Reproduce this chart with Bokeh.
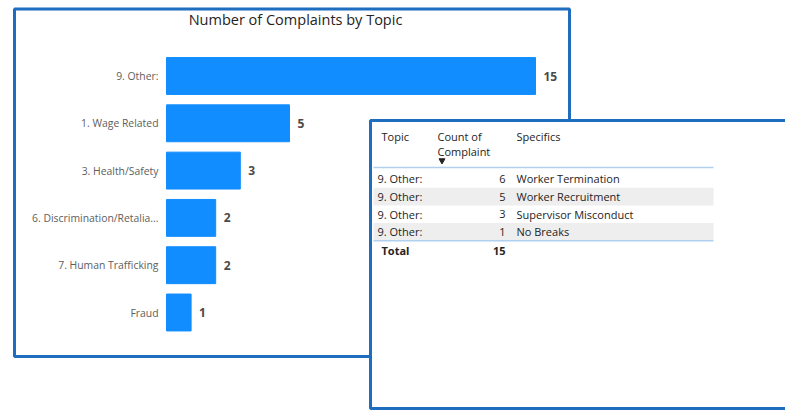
from bokeh.plotting import figure
from bokeh.models import Range1d
from bokeh.core.properties import value
from bokeh.embed import file_html
from bokeh.resources import INLINE

# ---------------- data ----------------
title_text = "Number of Complaints by Topic"
categories = ["9. Other:", "1. Wage Related", "3. Health/Safety",
              "6. Discrimination/Retalia...", "7. Human Trafficking", "Fraud"]
counts = [15, 5, 3, 2, 2, 1]

table_headers = ["Topic", "Count of", "Complaint", "Specifics"]
spec_topics = ["9. Other:", "9. Other:", "9. Other:", "9. Other:"]
spec_counts = [6, 5, 3, 1]
spec_names = ["Worker Termination", "Worker Recruitment", "Supervisor Misconduct", "No Breaks"]
total_label = "Total"

# ---------------- layout / style ----------------
W, H = 785, 419
OFF = 0                     # primary ranges are in screenshot pixels
BAR_X0 = 166.0              # x where value 0 sits
PX_PER_UNIT = 24.6
ROW0_Y = 75.5               # y of first category centre
ROW_STEP = 47.3

FONT = value("Open Sans")
BLUE_BORDER = "#1F6DBE"
BAR_COLOR = "#118DFF"
TEXT_DARK = "#252423"
TEXT_GREY = "#605E5C"

p = figure(width=W, height=H, output_backend="svg", toolbar_location=None,
           x_range=Range1d(OFF, OFF + W), y_range=Range1d(OFF + H, OFF),
           x_axis_location=None, y_axis_location=None, title_location=None,
           min_border=0, outline_line_color=None,
           background_fill_color="white", border_fill_color="white")
p.grid.visible = False

p.extra_x_ranges = {"val": Range1d((OFF - BAR_X0) / PX_PER_UNIT,
                                   (OFF + W - BAR_X0) / PX_PER_UNIT)}
p.extra_y_ranges = {"idx": Range1d((OFF + H - ROW0_Y) / ROW_STEP,
                                   (OFF - ROW0_Y) / ROW_STEP)}

# chart card
p.quad(left=[14], right=[569], top=[8.5], bottom=[356], fill_color="white",
       line_color=BLUE_BORDER, line_width=3)

idx = list(range(len(categories)))
p.hbar(y=idx, left=0, right=counts, height=0.78, color=BAR_COLOR,
       x_range_name="val", y_range_name="idx")
p.text(x=[0] * len(categories), y=idx, text=categories, x_offset=-8,
       text_align="right", text_baseline="middle", text_font=FONT,
       text_font_size="10.4px", text_color=TEXT_GREY,
       x_range_name="val", y_range_name="idx")
p.text(x=counts, y=idx, text=[str(c) for c in counts], x_offset=8,
       text_align="left", text_baseline="middle", text_font=FONT,
       text_font_size="12px", text_font_style="bold", text_color="#4A4A4A",
       x_range_name="val", y_range_name="idx")

p.text(x=[295], y=[19], text=[title_text], text_align="center",
       text_baseline="middle", text_font=FONT, text_font_size="14.5px",
       text_color=TEXT_DARK)

# table card
p.quad(left=[370], right=[810], top=[120], bottom=[408], fill_color="white",
       line_color=BLUE_BORDER, line_width=3)

TBL_L, TBL_R = 373, 713
ROW_TOP = 169.5
ROW_H = 17.7
n = len(spec_names)
row_tops = [ROW_TOP + i * ROW_H for i in range(n)]
row_mid = [t + ROW_H / 2 for t in row_tops]
shade = [i for i in range(n) if i % 2 == 1]
p.quad(left=[TBL_L] * len(shade), right=[TBL_R] * len(shade),
       top=[row_tops[i] for i in shade], bottom=[row_tops[i] + ROW_H for i in shade],
       fill_color="#EEEEEE", line_color=None)

p.segment(x0=[TBL_L, TBL_L], x1=[TBL_R, TBL_R],
          y0=[167, ROW_TOP + n * ROW_H], y1=[167, ROW_TOP + n * ROW_H],
          line_color="#AFD0EF", line_width=1.5)

hdr_style = dict(text_font=FONT, text_font_size="11px", text_color=TEXT_DARK,
                 text_baseline="middle", text_align="left")
p.text(x=[381, 437, 437, 516], y=[136, 136, 151, 136], text=table_headers, **hdr_style)
p.scatter(x=[441.5], y=[160], marker="inverted_triangle", size=6,
          color=TEXT_DARK)

cell = dict(text_font=FONT, text_font_size="11px", text_color=TEXT_DARK,
            text_baseline="middle")
p.text(x=[377] * n, y=row_mid, text=spec_topics, text_align="left", **cell)
p.text(x=[505] * n, y=row_mid, text=[str(c) for c in spec_counts],
       text_align="right", **cell)
p.text(x=[516] * n, y=row_mid, text=spec_names, text_align="left", **cell)

total_y = ROW_TOP + n * ROW_H + 10
p.text(x=[381], y=[total_y], text=[total_label], text_align="left",
       text_font_style="bold", **cell)
p.text(x=[505], y=[total_y], text=[str(sum(spec_counts))], text_align="right",
       text_font_style="bold", **cell)

open("out.html", "w").write(file_html(p, INLINE))
